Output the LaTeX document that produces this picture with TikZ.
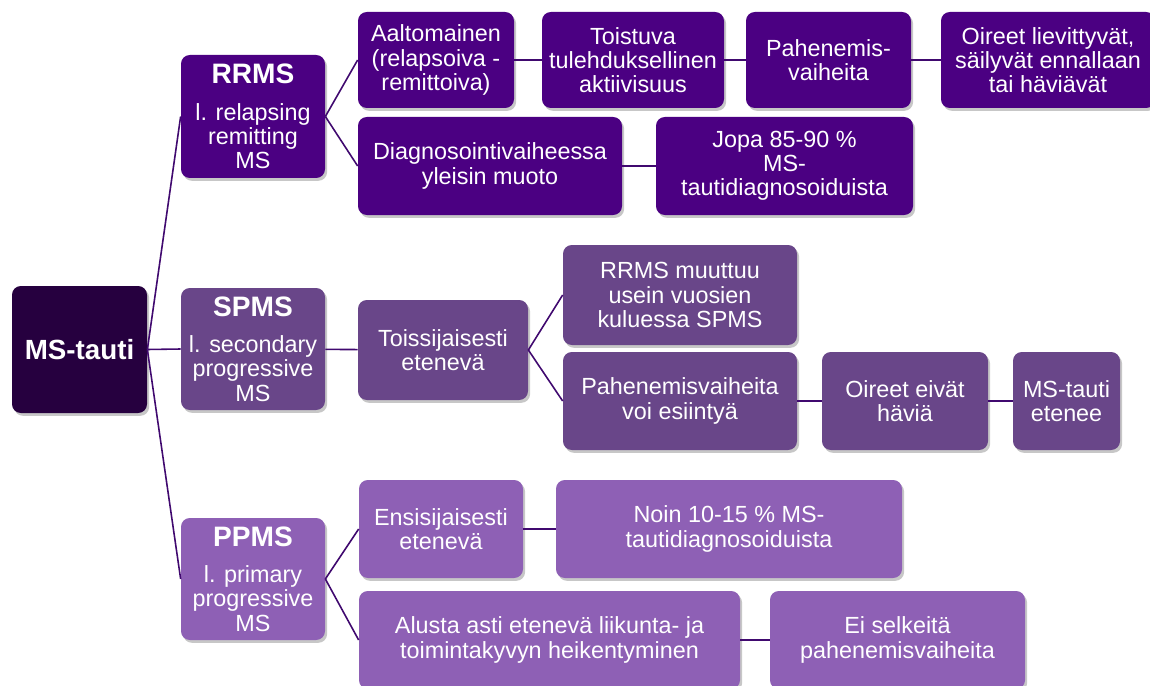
\documentclass[tikz,border=0pt]{standalone}
\usepackage{fontspec}
\setmainfont{Liberation Sans}
\usetikzlibrary{shadows}

\definecolor{rootc}{HTML}{26003F}
\definecolor{rrmsc}{HTML}{4B0082}
\definecolor{spmsc}{HTML}{694689}
\definecolor{ppmsc}{HTML}{8E60B5}
\definecolor{linkc}{HTML}{40096F}

\newcommand\typehead[1]{{\fontsize{16}{18}\selectfont\bfseries #1}\\[7pt]}

\begin{document}
\begin{tikzpicture}[
    x=0.02cm, y=-0.02cm,
    card/.style 2 args={
      rounded corners=5pt, align=center, text=white, inner sep=1pt,
      font=\fontsize{13.3}{13.8}\selectfont,
      minimum width=#1*0.02cm, minimum height=#2*0.02cm,
      drop shadow={shadow xshift=1.2pt, shadow yshift=-1.6pt, opacity=0.22, fill=black}
    },
    rr/.style={fill=rrmsc},
    sp/.style={fill=spmsc},
    pp/.style={fill=ppmsc},
    link/.style={draw=linkc, line width=0.9pt},
  ]
    \useasboundingbox (0,0) rectangle (1150,686);

    \node[card={135}{127}, fill=rootc, font=\fontsize{15.8}{18}\selectfont\bfseries] (root) at (79.5,349.5) {MS-tauti};

    % RRMS
    \node[card={144}{123}, rr] (rrms) at (253,116.5) {\typehead{RRMS}l. relapsing\\remitting\\MS};
    \node[card={156}{96}, rr] (aalto) at (436,60) {Aaltomainen\\(relapsoiva -\\remittoiva)};
    \node[card={182}{96}, rr] (toistuva) at (633,60) {Toistuva\\tulehduksellinen\\aktiivisuus};
    \node[card={165}{96}, rr] (pahen) at (828.5,60) {Pahenemis-\\vaiheita};
    \node[card={214}{96}, rr] (lievit) at (1048,60) {Oireet lievittyvät,\\säilyvät ennallaan\\tai häviävät};
    \node[card={264}{98}, rr] (diagn) at (490,166) {Diagnosointivaiheessa\\yleisin muoto};
    \node[card={257}{98}, rr] (jopa) at (784.5,166) {Jopa 85-90 \%\\MS-\\tautidiagnosoiduista};

    % SPMS
    \node[card={144}{122}, sp] (spms) at (253,349) {\typehead{SPMS}l. secondary\\progressive\\MS};
    \node[card={170}{100}, sp] (toissij) at (443,350) {Toissijaisesti\\etenevä};
    \node[card={234}{100}, sp] (muuttuu) at (680,295) {RRMS muuttuu\\usein vuosien\\kuluessa SPMS};
    \node[card={234}{98}, sp] (voiesi) at (680,401) {Pahenemisvaiheita\\voi esiintyä};
    \node[card={166}{98}, sp] (eivat) at (905,401) {Oireet eivät\\häviä};
    \node[card={107}{98}, sp] (etenee) at (1066.5,401) {MS-tauti\\etenee};

    % PPMS
    \node[card={144}{122}, pp] (ppms) at (253,579) {\typehead{PPMS}l. primary\\progressive\\MS};
    \node[card={164}{98}, pp] (ensisij) at (441,529) {Ensisijaisesti\\etenevä};
    \node[card={346}{98}, pp] (noin) at (729,529) {Noin 10-15 \% MS-\\tautidiagnosoiduista};
    \node[card={381}{98}, pp] (alusta) at (549.5,640) {Alusta asti etenevä liikunta- ja\\toimintakyvyn heikentyminen};
    \node[card={255}{98}, pp] (selkeit) at (897.5,640) {Ei selkeitä\\pahenemisvaiheita};

    \draw[link] (root.east) -- (rrms.west);
    \draw[link] (root.east) -- (spms.west);
    \draw[link] (root.east) -- (ppms.west);

    \draw[link] (rrms.east) -- (aalto.west);
    \draw[link] (rrms.east) -- (diagn.west);
    \draw[link] (aalto) -- (toistuva);
    \draw[link] (toistuva) -- (pahen);
    \draw[link] (pahen) -- (lievit);
    \draw[link] (diagn) -- (jopa);

    \draw[link] (spms) -- (toissij);
    \draw[link] (toissij.east) -- (muuttuu.west);
    \draw[link] (toissij.east) -- (voiesi.west);
    \draw[link] (voiesi) -- (eivat);
    \draw[link] (eivat) -- (etenee);

    \draw[link] (ppms.east) -- (ensisij.west);
    \draw[link] (ppms.east) -- (alusta.west);
    \draw[link] (ensisij) -- (noin);
    \draw[link] (alusta) -- (selkeit);
  \end{tikzpicture}
\end{document}
